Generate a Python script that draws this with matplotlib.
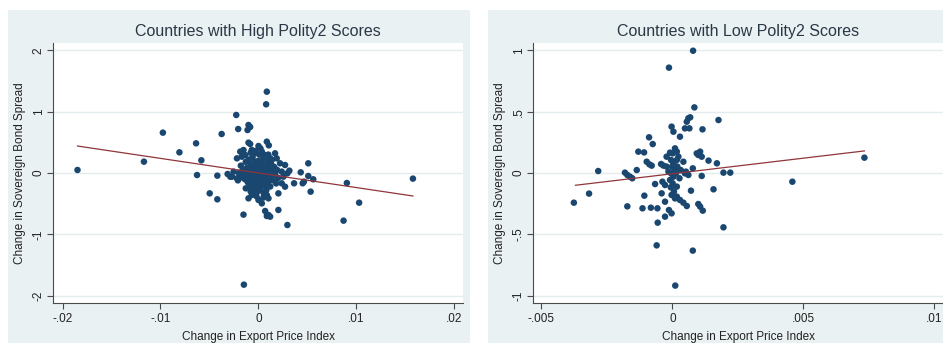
import matplotlib
matplotlib.use("Agg")
import matplotlib.pyplot as plt
from matplotlib.patches import Rectangle

plt.rcParams['font.family'] = ['Liberation Sans', 'DejaVu Sans']

# ---- data ----
high_x = [-0.01847, -0.01169, -0.00976, -0.00807, -0.00637, -0.00627, -0.00583, -0.00498, -0.00420,
          -0.00420, -0.00376, -0.00315, -0.00288, -0.00254, -0.00227, -0.00207, -0.00153, -0.00149,
          -0.00102, -0.00085, -0.00112, 0.00085, 0.00078, 0.00085, 0.00105, 0.00169, 0.00271, 0.00295,
          0.00203, 0.00203, 0.00085, 0.00119, 0.00068, 0.00034, 0.00431, 0.00451, 0.00363, 0.00508,
          0.00508, 0.00532, 0.00559, 0.00868, 0.00902, 0.01027, 0.01576, 0.00315, 0.00295, 0.00237,
          0.00254, 0.00464, 0.00271, 0.00237, 0.0, -0.00102, -0.00085, -0.00186, -0.00153, -0.00136,
          -0.00220, -0.00169, -0.00068, -0.00034, 0.00034, 0.00068, 0.00136, 0.00186, 0.00220,
          -0.00271, -0.00220, -0.00102, -0.00068, 0.0, 0.00085, 0.00102, 0.00102,
          -0.0018, -0.0016, -0.0015, -0.0014, -0.0013, -0.0012, -0.0012, -0.0011, -0.0010, -0.0010,
          -0.0009, -0.0009, -0.0008, -0.0008, -0.0007, -0.0007, -0.0006, -0.0006, -0.0006, -0.0005,
          -0.0005, -0.0004, -0.0004, -0.0004, -0.0003, -0.0003, -0.0002, -0.0002, -0.0001, -0.0001,
          -0.0001, 0.0000, 0.0000, 0.0001, 0.0001, 0.0001, 0.0002, 0.0002, 0.0003, 0.0003, 0.0004,
          0.0004, 0.0005, 0.0005, 0.0006, 0.0006, 0.0007, 0.0007, 0.0008, 0.0008, 0.0009, 0.0010,
          0.0010, 0.0011, 0.0012, 0.0013, 0.0013, 0.0014, 0.0015, 0.0016, 0.0017, 0.0018, -0.0020,
          -0.0017, -0.0013, -0.0003, 0.0002, -0.0008, 0.0010, 0.0005, -0.0002, 0.0012, 0.0019,
          0.0020, -0.0021]
high_y = [0.049, 0.185, 0.658, 0.337, 0.484, -0.033, 0.207, -0.332, -0.429,
          -0.043, 0.636, -0.016, -0.060, 0.022, 0.946, 0.717, -0.679, -1.821,
          0.783, 0.750, 0.701, 1.326, 1.120, 0.511, 0.451, 0.321, 0.130, -0.848,
          -0.603, -0.332, -0.701, -0.712, -0.620, -0.495, 0.011, -0.168, -0.168, 0.158,
          -0.049, -0.304, -0.103, -0.777, -0.163, -0.484, -0.092, 0.038, -0.005, 0.022,
          -0.060, -0.141, -0.223, -0.168, 0.440, 0.495, 0.473, 0.348, 0.375, 0.293,
          0.239, 0.266, 0.375, 0.321, 0.348, 0.293, 0.212, 0.239, 0.158,
          -0.060, -0.087, -0.413, -0.359, -0.440, -0.359, -0.413, -0.685,
          0.12, 0.05, -0.02, -0.10, 0.18, 0.08, -0.05, -0.15, 0.22, 0.02,
          -0.08, -0.22, 0.14, -0.30, 0.06, -0.12, 0.25, -0.02, -0.18, 0.10,
          -0.26, 0.18, -0.06, -0.33, 0.03, -0.14, 0.13, -0.22, 0.07, -0.04,
          -0.30, 0.20, -0.10, 0.01, -0.18, 0.30, 0.10, -0.26, -0.05, 0.16, -0.14,
          0.05, -0.32, 0.24, -0.02, -0.20, 0.12, -0.09, 0.04, -0.28, 0.19, -0.04,
          -0.15, 0.08, -0.22, 0.14, -0.08, 0.02, -0.12, 0.10, -0.02, -0.17, 0.00,
          -0.07, -0.25, 0.36, 0.40, 0.33, 0.30, -0.40, -0.38, 0.24, 0.05,
          -0.08, -0.12]
high_fit_x = [-0.01847, 0.01576]
high_fit_y = [0.44, -0.375]

low_x = [-0.00376, -0.00318, -0.00283, -0.00181, -0.00172, -0.00162, -0.00153, -0.00172, -0.00136,
         -0.00130, -0.00108, -0.00114, -0.00107, -0.00098, -0.00088, -0.00079, -0.00089, -0.00075,
         -0.00082, -0.00066, -0.00060, -0.00056, -0.00057, -0.00043, -0.00034, -0.00038, -0.00028,
         -0.00028, -0.00028, -0.00022, -0.00013, -0.00009, -0.00003, 0.00004, -0.00013, -0.00003,
         0.00011, 0.00029, 0.00001, 0.00010, 0.00017, -0.00005, 0.00004, -0.00001, 0.00009, -0.00005,
         0.00004, -0.00009, 0.00001, -0.00006, 0.00006, -0.00003, 0.00010, 0.00017, 0.00023, 0.00019,
         0.00014, 0.00027, 0.00017, 0.00017, 0.00029, 0.00042, 0.00055, 0.00042, 0.00048, 0.00052,
         0.00061, 0.00048, 0.00065, 0.00055, 0.00061, 0.00068, 0.00084, 0.00079, 0.00078, 0.00071,
         0.00078, 0.00093, 0.00106, 0.00099, 0.00112, 0.00099, 0.00106, 0.00116, 0.00112, 0.00115,
         0.00138, 0.00157, 0.00170, 0.00176, 0.00195, 0.00221, 0.00195, 0.00458, 0.00733, -0.00022,
         -0.00015, 0.00032, -0.00041]
low_y = [-0.242, -0.168, 0.016, 0.003, -0.016, -0.030, -0.043, -0.272, 0.024,
         0.174, 0.168, -0.288, -0.185, 0.092, 0.071, 0.060, 0.291, 0.236,
         -0.283, -0.090, -0.590, -0.405, -0.288, 0.073, 0.060, -0.071, -0.098,
         -0.234, -0.356, 0.052, 0.859, 0.166, 0.378, 0.337, -0.302, -0.329,
         -0.918, 0.296, 0.160, 0.201, 0.174, 0.106, 0.079, 0.052, 0.024, -0.003,
         -0.030, -0.057, -0.084, -0.117, -0.152, -0.179, -0.207, 0.106, 0.133, 0.052,
         -0.003, -0.043, -0.111, -0.193, -0.220, -0.242, -0.269, 0.092, -0.003, 0.011,
         -0.016, 0.364, 0.364, 0.418, 0.446, 0.454, 0.535, 0.997, -0.633, -0.144,
         0.038, 0.160, 0.174, 0.147, 0.133, -0.253, -0.274, -0.307, -0.024, 0.356,
         0.101, -0.133, 0.079, 0.432, 0.003, 0.003, -0.443, -0.071, 0.125, 0.133,
         0.011, 0.024, -0.166]
low_fit_x = [-0.0037, 0.00733]
low_fit_y = [-0.10, 0.18]

panels = [
    dict(title="Countries with High Polity2 Scores", x=high_x, y=high_y,
         fx=high_fit_x, fy=high_fit_y,
         xticks=[-0.02, -0.01, 0, 0.01, 0.02], xlabels=["-.02", "-.01", "0", ".01", ".02"],
         yticks=[2, 1, 0, -1, -2], ylabels=["2", "1", "0", "-1", "-2"],
         xlim=(-0.02097, 0.02087), ylim=(-2.12, 2.12)),
    dict(title="Countries with Low Polity2 Scores", x=low_x, y=low_y,
         fx=low_fit_x, fy=low_fit_y,
         xticks=[-0.005, 0, 0.005, 0.01], xlabels=["-.005", "0", ".005", ".01"],
         yticks=[1, 0.5, 0, -0.5, -1], ylabels=["1", ".5", "0", "-.5", "-1"],
         xlim=(-0.00532, 0.01033), ylim=(-1.06, 1.06)),
]

BG = "#eaf1f3"
DOT = "#1a476f"
FIT = "#90353b"
W, H = 943, 343

fig = plt.figure(figsize=(W / 100, H / 100), dpi=100)
fig.patch.set_facecolor("white")

# panel backgrounds (left/right in pixels), kept behind the axes
for x0, x1 in [(8, 470), (488, 943)]:
    fig.add_artist(Rectangle((x0 / W, 0), (x1 - x0) / W, 1 - 10 / H,
                             transform=fig.transFigure, facecolor=BG,
                             edgecolor="none", zorder=-10))

axes_left = [53, 533]
for p, left in zip(panels, axes_left):
    ax = fig.add_axes([left / W, 1 - 303 / H, 410 / W, 260 / H], zorder=5)
    ax.set_facecolor("white")
    for yt in p["yticks"]:
        ax.axhline(yt, color="#e4ecef", lw=1.0, zorder=1)
    ax.scatter(p["x"], p["y"], s=22, color=DOT, edgecolors="none", zorder=3)
    ax.plot(p["fx"], p["fy"], color=FIT, lw=0.9, zorder=4)

    ax.set_xlim(*p["xlim"])
    ax.set_ylim(*p["ylim"])
    ax.set_xticks(p["xticks"])
    ax.set_xticklabels(p["xlabels"])
    ax.set_yticks(p["yticks"])
    ax.set_yticklabels(p["ylabels"], rotation=90, va="center")
    for side in ["top", "right"]:
        ax.spines[side].set_visible(False)
    for side in ["left", "bottom"]:
        ax.spines[side].set_color("#4a4a4a")
        ax.spines[side].set_linewidth(0.8)
    ax.tick_params(axis="both", direction="out", length=4, width=0.8,
                   color="#4a4a4a", labelsize=8.5, labelcolor="#222222")
    ax.tick_params(axis="x", pad=3)
    ax.tick_params(axis="y", pad=2)

    ax.set_title(p["title"], fontsize=11.5, color="#2a3846", pad=5)
    ax.set_xlabel("Change in Export Price Index", fontsize=8.5, color="#222222")
    ax.set_ylabel("Change in Sovereign Bond Spread", fontsize=8.5, color="#222222")
    ax.xaxis.set_label_coords(0.5, -0.13)
    ax.xaxis.label.set_va("center")
    ax.yaxis.set_label_coords(-0.08, 0.5)
    ax.yaxis.label.set_va("center")

fig.savefig("out.png", dpi=100, facecolor=fig.get_facecolor())
